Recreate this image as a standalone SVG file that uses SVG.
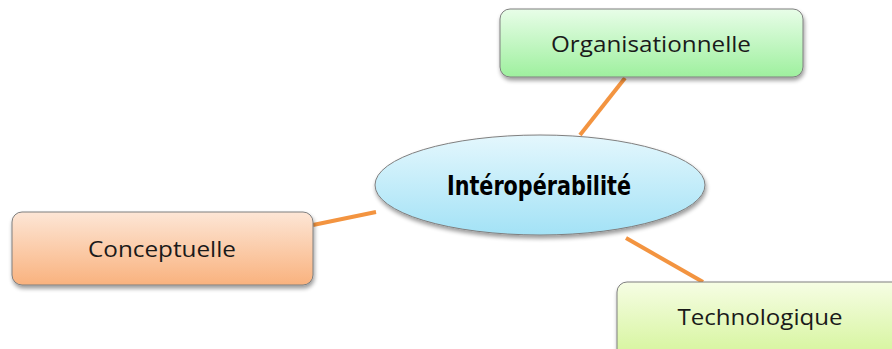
<svg xmlns="http://www.w3.org/2000/svg" width="892" height="349" viewBox="0 0 892 349">
<style>
.box{stroke:#7f7f7f;stroke-width:1;filter:url(#sh)}
.lbl{font-family:"Open Sans","Liberation Sans",sans-serif;font-size:21px;fill:#1a1a1a;text-anchor:middle}
.ctr{font-family:"Liberation Sans Narrow","DejaVu Sans Condensed","Liberation Sans",sans-serif;font-weight:bold;font-size:26px;fill:#000;text-anchor:middle}
.con{stroke:#f39440;stroke-width:4;fill:none}
</style>
<defs>
<filter id="sh" x="-10%" y="-10%" width="125%" height="135%">
<feGaussianBlur in="SourceAlpha" stdDeviation="2"/>
<feOffset dx="1" dy="3" result="b"/>
<feComponentTransfer><feFuncA type="linear" slope="0.4"/></feComponentTransfer>
<feMerge><feMergeNode/><feMergeNode in="SourceGraphic"/></feMerge>
</filter>
<linearGradient id="gG" x1="0" y1="0" x2="0" y2="1"><stop offset="0" stop-color="#e8fde8"/><stop offset="1" stop-color="#9ef09e"/></linearGradient>
<linearGradient id="gO" x1="0" y1="0" x2="0" y2="1"><stop offset="0" stop-color="#fde6d6"/><stop offset="1" stop-color="#f9b27e"/></linearGradient>
<linearGradient id="gY" x1="0" y1="0" x2="0" y2="1"><stop offset="0" stop-color="#f6fde4"/><stop offset="1" stop-color="#d3f497"/></linearGradient>
<linearGradient id="gB" x1="0" y1="0" x2="0" y2="1"><stop offset="0" stop-color="#e4f7fd"/><stop offset="1" stop-color="#a3e2f6"/></linearGradient>
</defs>
<g id="connectors">
<line class="con" x1="625" y1="78" x2="580" y2="135"/>
<line class="con" x1="313" y1="225" x2="376" y2="212"/>
<line class="con" x1="626" y1="238" x2="703" y2="282"/>
</g>
<g id="organisationnelle">
<rect class="box" x="500" y="9" width="303" height="68" rx="10" fill="url(#gG)"/>
<text class="lbl" x="651" y="52" textLength="200" lengthAdjust="spacingAndGlyphs">Organisationnelle</text>
</g>
<g id="conceptuelle">
<rect class="box" x="12" y="212" width="301" height="73" rx="10" fill="url(#gO)"/>
<text class="lbl" x="162" y="257" textLength="148" lengthAdjust="spacingAndGlyphs">Conceptuelle</text>
</g>
<g id="technologique">
<rect class="box" x="617" y="282" width="290" height="80" rx="10" fill="url(#gY)"/>
<text class="lbl" x="760" y="325" textLength="165" lengthAdjust="spacingAndGlyphs">Technologique</text>
</g>
<g id="interoperabilite">
<ellipse class="box" cx="540" cy="185" rx="165" ry="50" fill="url(#gB)"/>
<text class="ctr" x="539" y="195" textLength="184" lengthAdjust="spacingAndGlyphs">Intéropérabilité</text>
</g>
</svg>
